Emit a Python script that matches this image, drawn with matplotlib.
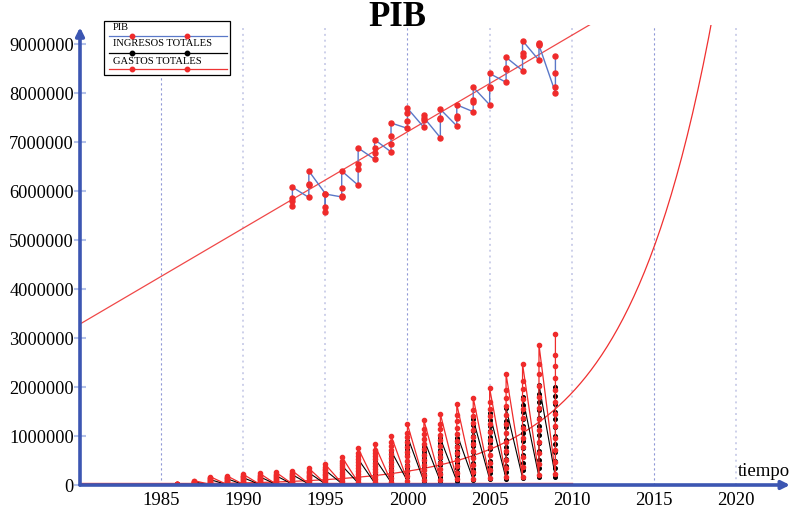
import numpy as np
import matplotlib.pyplot as plt
from matplotlib.lines import Line2D
from matplotlib.patches import Rectangle

plt.rcParams['font.family'] = ['Liberation Serif', 'DejaVu Serif']

# === PIB trimestral (millones), 4 valores por año ===
pib_years = list(range(1993, 2010))
pib_q = [
    [5.70, 5.79, 5.85, 6.08],  # 1993
    [5.87, 6.12, 6.14, 6.41],  # 1994
    [5.95, 5.67, 5.58, 5.94],  # 1995
    [5.88, 5.90, 6.07, 6.41],  # 1996
    [6.12, 6.46, 6.55, 6.88],  # 1997
    [6.65, 6.77, 6.87, 7.05],  # 1998
    [6.80, 6.97, 7.13, 7.39],  # 1999
    [7.28, 7.43, 7.59, 7.69],  # 2000
    [7.30, 7.45, 7.55, 7.50],  # 2001
    [7.09, 7.48, 7.50, 7.67],  # 2002
    [7.33, 7.50, 7.53, 7.76],  # 2003
    [7.62, 7.82, 7.86, 8.12],  # 2004
    [7.76, 8.10, 8.12, 8.40],  # 2005
    [8.22, 8.50, 8.52, 8.73],  # 2006
    [8.46, 8.76, 8.82, 9.07],  # 2007
    [8.67, 9.00, 9.03, 8.98],  # 2008
    [8.01, 8.12, 8.42, 8.76],  # 2009
]

# === Gastos / ingresos mensuales acumulados (miles), 12 valores por año ===
mes_years = list(range(1986, 2010))
gastos_m = [
    [2, 5, 7, 9, 12, 14, 17, 19, 21, 24, 26, 30],
    [6, 14, 21, 28, 35, 42, 50, 57, 64, 71, 77, 90],
    [12, 26, 39, 53, 66, 80, 94, 107, 121, 134, 146, 170],
    [13, 29, 44, 59, 74, 89, 105, 120, 135, 150, 163, 190],
    [15, 33, 51, 68, 86, 103, 121, 139, 156, 174, 189, 220],
    [17, 36, 55, 74, 94, 113, 132, 151, 170, 190, 206, 240],
    [18, 39, 60, 81, 101, 122, 143, 164, 185, 205, 224, 260],
    [20, 44, 67, 90, 113, 136, 160, 183, 206, 229, 249, 290],
    [24, 51, 78, 105, 133, 160, 187, 214, 241, 269, 292, 340],
    [29, 63, 97, 130, 164, 197, 231, 265, 298, 332, 361, 420],
    [41, 87, 133, 180, 226, 273, 319, 365, 412, 458, 499, 580],
    [53, 113, 173, 233, 293, 353, 413, 473, 533, 593, 645, 750],
    [58, 125, 191, 257, 324, 390, 457, 523, 589, 656, 714, 830],
    [71, 152, 232, 313, 394, 475, 556, 636, 717, 798, 869, 1010],
    [87, 186, 285, 384, 484, 583, 682, 781, 880, 980, 1066, 1240],
    [92, 198, 304, 409, 515, 620, 726, 832, 937, 1043, 1135, 1320],
    [102, 218, 334, 450, 566, 682, 798, 914, 1030, 1146, 1247, 1450],
    [116, 248, 380, 512, 644, 776, 908, 1040, 1172, 1304, 1419, 1650],
    [125, 267, 409, 552, 694, 837, 979, 1121, 1264, 1406, 1531, 1780],
    [138, 296, 453, 611, 768, 926, 1084, 1241, 1399, 1556, 1694, 1970],
    [158, 339, 520, 701, 881, 1062, 1243, 1424, 1605, 1785, 1944, 2260],
    [173, 371, 568, 766, 963, 1161, 1359, 1556, 1754, 1951, 2124, 2470],
    [200, 429, 658, 887, 1115, 1344, 1573, 1802, 2031, 2259, 2460, 2860],
    [216, 462, 708, 955, 1201, 1448, 1694, 1940, 2187, 2433, 2649, 3080],
]
ingresos_m = [
    [2, 3, 5, 7, 8, 10, 12, 13, 15, 17, 18, 20],
    [5, 10, 15, 20, 25, 30, 35, 40, 45, 50, 55, 60],
    [9, 19, 28, 37, 46, 55, 65, 74, 83, 91, 100, 110],
    [10, 22, 33, 44, 55, 65, 77, 87, 98, 108, 118, 130],
    [12, 26, 38, 51, 63, 75, 89, 101, 113, 125, 137, 150],
    [14, 29, 43, 58, 71, 85, 100, 114, 128, 141, 155, 170],
    [15, 32, 48, 65, 80, 95, 112, 127, 143, 158, 173, 190],
    [17, 36, 53, 71, 88, 105, 124, 141, 158, 174, 191, 210],
    [20, 43, 63, 85, 105, 125, 148, 168, 188, 208, 228, 250],
    [24, 51, 75, 102, 126, 150, 177, 201, 225, 249, 273, 300],
    [32, 68, 100, 136, 168, 200, 236, 268, 300, 332, 364, 400],
    [42, 90, 133, 180, 223, 265, 313, 355, 398, 440, 482, 530],
    [44, 94, 138, 187, 231, 275, 325, 369, 413, 457, 501, 550],
    [56, 119, 175, 238, 294, 350, 413, 469, 525, 581, 637, 700],
    [79, 168, 248, 337, 416, 495, 584, 663, 743, 822, 901, 990],
    [74, 158, 233, 316, 391, 465, 549, 623, 698, 772, 846, 930],
    [76, 162, 238, 323, 399, 475, 561, 637, 713, 789, 865, 950],
    [84, 179, 263, 357, 441, 525, 620, 704, 788, 872, 956, 1050],
    [107, 228, 335, 456, 563, 670, 791, 898, 1005, 1112, 1219, 1340],
    [117, 248, 365, 496, 613, 730, 861, 978, 1095, 1212, 1329, 1460],
    [126, 267, 393, 534, 659, 785, 926, 1052, 1178, 1303, 1429, 1570],
    [144, 306, 450, 612, 756, 900, 1062, 1206, 1350, 1494, 1638, 1800],
    [164, 349, 513, 697, 861, 1025, 1210, 1374, 1538, 1702, 1866, 2050],
    [160, 340, 500, 680, 840, 1000, 1180, 1340, 1500, 1660, 1820, 2000],
]

# === Tendencias ===
pib_trend_x0 = 1980.0
pib_trend_y0 = 3.27e6      # valor en 1980
pib_trend_slope = 0.197e6  # por año
gasto_trend_ref_year = 2015.0
gasto_trend_ref_val = 4.86e6
gasto_trend_rate = 0.19
base_line_val = 40000      # línea roja casi en cero (1980-2010)

x_ticks = [1985, 1990, 1995, 2000, 2005, 2010, 2015, 2020]
y_ticks = list(range(0, 9000001, 1000000))

AXIS_BLUE = '#3c56b2'
PIB_BLUE = '#5a78c8'
RED = '#ef2b2b'

W, H = 791, 509
fig = plt.figure(figsize=(W / 100, H / 100), dpi=100)
ax = fig.add_axes([80 / W, 1 - 485 / H, 710 / W, 460 / H])
ax.set_xlim(1980.08, 2023.27)
ax.set_ylim(0, 9.39e6)

# grid verticales
for yr in x_ticks:
    if yr in (1985, 2000, 2015):
        ax.axvline(yr, color='#8e97d6', lw=0.8, ls=(0, (2, 2.5)), zorder=0)
    else:
        ax.axvline(yr, color='#cdd0ea', lw=1.4, ls=(0, (1, 2)), zorder=0)

# tendencias
tx = np.linspace(1980.08, 2023.3, 400)
ax.plot(tx, pib_trend_y0 + pib_trend_slope * (tx - pib_trend_x0), color='#f04848', lw=0.9, zorder=2)
ax.plot(tx, gasto_trend_ref_val * np.exp(gasto_trend_rate * (tx - gasto_trend_ref_year)),
        color='#f03030', lw=0.9, zorder=2)
ax.plot([1980.08, 2010], [base_line_val, base_line_val], color='#f04040', lw=1.0, zorder=2)

# ingresos / gastos mensuales
mx = np.repeat(mes_years, 12)
ing = np.array(ingresos_m).ravel() * 1e3
gas = np.array(gastos_m).ravel() * 1e3
ax.plot(mx, ing, color='black', lw=0.8, marker='o', ms=2.6, mec='black', mfc='black', zorder=3)
ax.plot(mx, gas, color=RED, lw=0.9, marker='o', ms=3.0, mec=RED, mfc=RED, zorder=4)

# PIB
px_ = np.repeat(pib_years, 4)
pib = np.array(pib_q).ravel() * 1e6
ax.plot(px_, pib, color=PIB_BLUE, lw=1.0, zorder=5)
ax.plot(px_, pib, ls='none', marker='o', ms=3.6, mfc=RED, mec=RED, zorder=6)

# ejes
for s in ax.spines.values():
    s.set_visible(False)
ax.annotate('', xy=(1.0, 0), xytext=(0, 0), xycoords='axes fraction',
            arrowprops=dict(arrowstyle='-|>', color=AXIS_BLUE, lw=2.6, mutation_scale=12,
                            shrinkA=0, shrinkB=0), zorder=10)
ax.annotate('', xy=(0, 0.995), xytext=(0, 0), xycoords='axes fraction',
            arrowprops=dict(arrowstyle='-|>', color=AXIS_BLUE, lw=2.6, mutation_scale=12,
                            shrinkA=0, shrinkB=0), zorder=10)

ax.set_xticks(x_ticks)
ax.set_xticklabels([str(v) for v in x_ticks])
ax.set_yticks(y_ticks)
ax.set_yticklabels([str(v) for v in y_ticks])
ax.tick_params(axis='x', length=0, pad=5, labelsize=13.5)
ax.tick_params(axis='y', direction='inout', length=9, width=1.5, color='#b4c2ea',
               pad=0, labelsize=13.2)

fig.text(0.503, 1 - 18 / H, 'PIB', fontsize=25, fontweight='bold', ha='center', va='center')
fig.text(790 / W, 1 - 472 / H, 'tiempo', fontsize=13.5, ha='right', va='center')

# leyenda
def fx(p):
    return p / W

def fy(p):
    return 1 - p / H

fig.add_artist(Rectangle((fx(104), fy(75)), 126 / W, 54 / H, transform=fig.transFigure,
                         facecolor='white', edgecolor='black', lw=0.9, zorder=20))
entries = [
    ('PIB', PIB_BLUE, RED, 27, 36),
    ('INGRESOS TOTALES', 'black', 'black', 44, 52.5),
    ('GASTOS TOTALES', '#ee3333', RED, 61, 68.5),
]
for label, lc, mc, ty, ly in entries:
    fig.text(fx(113), fy(ty), label, fontsize=7.6, ha='left', va='center', zorder=21)
    fig.add_artist(Line2D([fx(109), fx(227)], [fy(ly), fy(ly)], transform=fig.transFigure,
                          color=lc, lw=0.9, zorder=21))
    fig.add_artist(Line2D([fx(131.5), fx(187)], [fy(ly), fy(ly)], transform=fig.transFigure,
                          ls='none', marker='o', ms=3.2, mfc=mc, mec=mc, zorder=22))

fig.savefig('out.png', dpi=100)
